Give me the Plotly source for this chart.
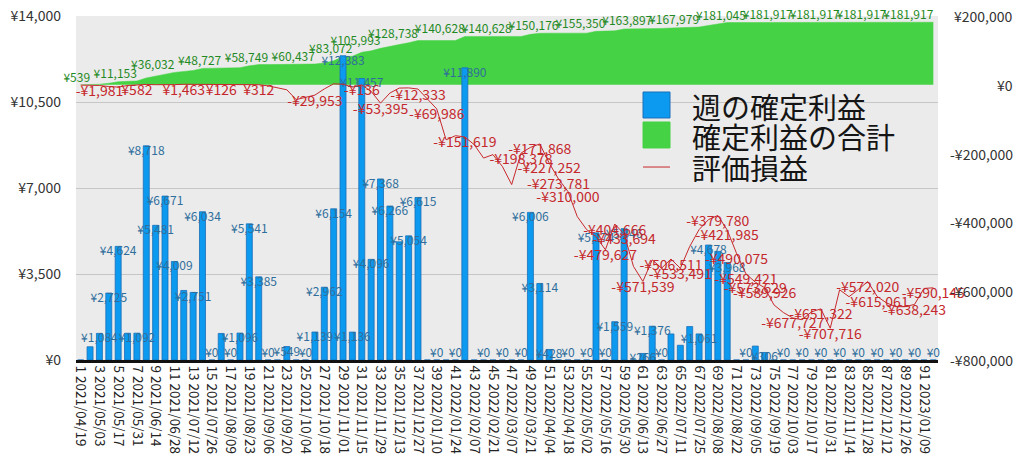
import plotly.graph_objects as go
import pandas as pd

# ---------------- data ----------------
week_no = list(range(1, 93))
week_start = pd.date_range("2021-04-19", periods=92, freq="7D")  # weekly categories
categories = [f"{n} {d:%Y/%m/%d}" for n, d in zip(week_no, week_start)]

weekly_profit = [
    0, 539, 1084, 2725, 4624, 1089, 1092, 8718, 5481, 6671,
    4009, 2830, 2751, 6034, 0, 1080, 0, 1096, 5541, 3385,
    0, 0, 549, 0, 0, 1139, 2962, 6154, 12383, 1136,
    11457, 4096, 7368, 6266, 4810, 5054, 6615, 0, 0, 0,
    0, 11890, 0, 0, 0, 0, 0, 0, 6006, 3114,
    428, 0, 0, 0, 0, 5174, 0, 1559, 5346, 0,
    266, 1376, 0, 1060, 600, 1361, 1061, 4678, 4420, 3968,
    0, 0, 566, 306, 0, 0, 0, 0, 0, 0,
    0, 0, 0, 0, 0, 0, 0, 0, 0, 0,
    0, 0,
]

cumulative_profit = [
    0, 539, 1623, 4348, 8972, 10061, 11153, 19871, 25352, 32023,
    36032, 38862, 41613, 47647, 47647, 48727, 48727, 49823, 55364, 58749,
    58749, 58749, 59298, 59298, 59298, 60437, 63399, 69553, 81936, 83072,
    94529, 98625, 105993, 112259, 117069, 122123, 128738, 128738, 128738, 128738,
    128738, 140628, 140628, 140628, 140628, 140628, 140628, 140628, 146634, 149748,
    150176, 150176, 150176, 150176, 150176, 155350, 155350, 156909, 162255, 162255,
    162521, 163897, 163897, 164957, 165557, 166918, 167979, 172657, 177077, 181045,
    181045, 181045, 181611, 181917, 181917, 181917, 181917, 181917, 181917, 181917,
    181917, 181917, 181917, 181917, 181917, 181917, 181917, 181917, 181917, 181917,
    181917, 181917,
]

unrealized_pl = [
    -1000, -1500, -1981, -5000, -6700, -2000, 582, 1000, 300, -300,
    500, 1463, 1200, 500, 0, 126, 600, 800, 500, 312,
    -3000, -8000, -14500, -43000, -36000, -29953, -12000, 2900, 1500, -6700,
    -136, -19000, -53395, -24000, -9500, -9000, -12333, -40000, -69986, -160000,
    -148000, -151619, -174000, -213000, -203000, -237000, -290000, -198378, -182000, -171868,
    -227252, -273781, -310000, -383000, -421000, -441000, -479627, -404666, -433694, -528000,
    -571539, -509000, -533000, -506511, -533491, -470000, -421000, -392000, -379780, -421985,
    -490075, -549421, -573629, -589926, -640000, -662000, -677727, -683000, -660000, -651322,
    -707716, -596000, -616000, -595000, -572020, -615061, -634000, -645000, -645000, -638243,
    -592000, -590145,
]

# weeks whose data labels are visible in the original
bar_label_weeks = [3, 4, 5, 7, 8, 9, 10, 11, 13, 14, 15, 17, 18, 19, 20, 21, 23, 25, 26, 27,
                   28, 29, 30, 31, 32, 33, 34, 36, 37, 39, 41, 42, 44, 46, 48, 49, 50, 51, 53,
                   55, 56, 57, 58, 59, 61, 62, 63, 67, 68, 70, 72, 74, 76, 78, 80, 82, 84, 86,
                   88, 90, 92]
cum_label_weeks = [2, 7, 11, 16, 21, 26, 30, 33, 37, 42, 47, 52, 57, 62, 67, 72, 77, 82, 87, 92]
pl_label_weeks = [3, 7, 12, 16, 20, 26, 31, 33, 37, 39, 42, 48, 50, 51, 52, 53, 57, 58, 59,
                  61, 64, 65, 69, 70, 71, 72, 73, 74, 77, 80, 81, 85, 86, 90, 92]

left_ticks = [0, 3500, 7000, 10500, 14000]
right_ticks = [-800000, -600000, -400000, -200000, 0, 200000]
legend_names = ["週の確定利益", "確定利益の合計", "評価損益"]

# ---------------- style ----------------
FONT = "Noto Sans CJK JP"
BLUE = "#0b9af0"
BLUE_EDGE = "#1b6fb8"
GREEN = "#45d245"
RED = "#c8282c"
BAR_TXT = "#2f6e9c"
CUM_TXT = "#1f8a24"
RED_TXT = "#c5282c"


def yen(v):
    return f"-¥{abs(v):,}" if v < 0 else f"¥{v:,}"


def pick(values, weeks):
    return [categories[w - 1] for w in weeks], [values[w - 1] for w in weeks]


fig = go.Figure()

# cumulative area (right scale, bottom layer)
fig.add_trace(go.Scatter(
    x=categories, y=cumulative_profit, mode="lines", fill="tozeroy",
    line=dict(color=GREEN, width=0.5), fillcolor=GREEN, yaxis="y",
    name=legend_names[1], showlegend=False, hoverinfo="skip"))
cx, cy = pick(cumulative_profit, cum_label_weeks)
fig.add_trace(go.Scatter(
    x=cx, y=cy, mode="text", text=[yen(v) for v in cy], textposition="top left",
    textfont=dict(family=FONT, size=12, color=CUM_TXT), yaxis="y",
    showlegend=False, cliponaxis=False, hoverinfo="skip"))

# weekly bars (left scale, middle layer)
fig.add_trace(go.Bar(
    x=categories, y=weekly_profit, marker=dict(color=BLUE, line=dict(color=BLUE_EDGE, width=0.8)),
    yaxis="y2", name=legend_names[0], showlegend=False, hoverinfo="skip"))
bx, by = pick(weekly_profit, bar_label_weeks)
fig.add_trace(go.Scatter(
    x=bx, y=by, mode="text", text=[yen(v) for v in by],
    textposition=["top center" if v == 0 else "bottom center" for v in by],
    textfont=dict(family=FONT, size=12, color=BAR_TXT), yaxis="y2",
    showlegend=False, cliponaxis=False, hoverinfo="skip"))

# unrealized P/L line (right scale, top layer)
fig.add_trace(go.Scatter(
    x=categories, y=unrealized_pl, mode="lines", line=dict(color=RED, width=1),
    yaxis="y3", name=legend_names[2], showlegend=False, hoverinfo="skip"))
px_, py_ = pick(unrealized_pl, pl_label_weeks)
fig.add_trace(go.Scatter(
    x=px_, y=py_, mode="text", text=[yen(v) for v in py_], textposition="bottom center",
    textfont=dict(family=FONT, size=14, color=RED_TXT), yaxis="y3",
    showlegend=False, cliponaxis=False, hoverinfo="skip"))

# right-aligned labels for the right axis
for v in right_ticks:
    fig.add_annotation(x=1.0894, xref="paper", xanchor="right", y=v, yref="y",
                       text=yen(v), showarrow=False,
                       font=dict(family=FONT, size=14, color="#333333"))

# custom legend (large type as in the original)
sym_x0, sym_x1 = 0.6578, 0.6891
fig.add_shape(type="rect", xref="paper", yref="paper", x0=sym_x0, x1=sym_x1, y0=0.7035, y1=0.7791,
              fillcolor=BLUE, line=dict(color=BLUE_EDGE, width=1))
fig.add_shape(type="rect", xref="paper", yref="paper", x0=sym_x0, x1=sym_x1, y0=0.6163, y1=0.6919,
              fillcolor=GREEN, line=dict(color=GREEN, width=1))
fig.add_shape(type="line", xref="paper", yref="paper", x0=sym_x0, x1=sym_x1, y0=0.561, y1=0.561,
              line=dict(color=RED, width=1))
for name, yy in zip(legend_names, [0.7398, 0.6526, 0.5596]):
    fig.add_annotation(x=0.7123, xref="paper", xanchor="left", y=yy, yref="paper", yanchor="middle",
                       text=name, showarrow=False, font=dict(family=FONT, size=29, color="#151515"))

fig.update_layout(
    width=1024, height=468,
    margin=dict(l=76, r=86, t=16, b=108, autoexpand=False),
    paper_bgcolor="white", plot_bgcolor="#ebebeb",
    bargap=0.36, showlegend=False,
    font=dict(family=FONT, color="#333333"),
    xaxis=dict(type="category", categoryorder="array", categoryarray=categories,
               range=[-0.5, len(categories) - 0.5],
               tickmode="array", tickvals=categories[::2], ticktext=categories[::2],
               tickangle=90, tickfont=dict(family=FONT, size=13.5, color="#222222"),
               showgrid=False, showline=True, linecolor="#111111", linewidth=2.5,
               ticks="", zeroline=False, automargin=False),
    yaxis=dict(range=[right_ticks[0], right_ticks[-1]], side="right", showticklabels=False,
               showgrid=False, zeroline=False, ticks="", automargin=False),
    yaxis2=dict(range=[left_ticks[0], left_ticks[-1]], overlaying="y", side="left",
                tickmode="array", tickvals=left_ticks, ticktext=[yen(v) for v in left_ticks],
                tickfont=dict(family=FONT, size=14, color="#333333"),
                showgrid=True, gridcolor="#c6c6c6", gridwidth=1, zeroline=False,
                ticks="", ticklabelstandoff=14, ticklabeloverflow="allow", automargin=False),
    yaxis3=dict(range=[right_ticks[0], right_ticks[-1]], overlaying="y", side="right",
                visible=False, automargin=False),
)

# place the figure at the window's top-left corner (no default page margin), no mode bar
fig.write_html("out.html", config={"displayModeBar": False},
               post_script="document.body.style.margin='0px';")
